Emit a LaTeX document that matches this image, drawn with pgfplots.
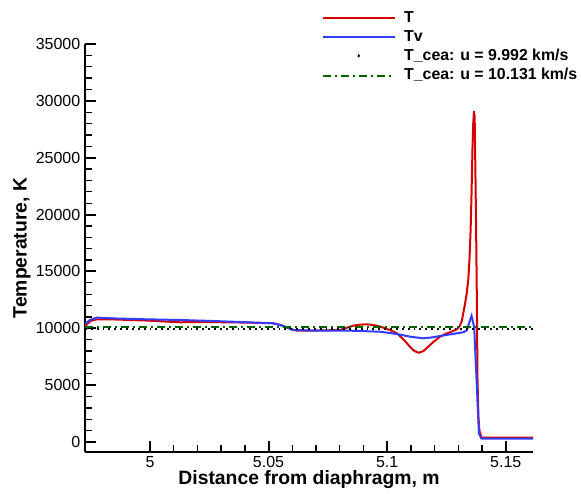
\documentclass[border=0pt]{standalone}
\usepackage{fontspec}
\setmainfont{Liberation Sans}
\setsansfont{Liberation Sans}
\usepackage{pgfplots}
\pgfplotsset{compat=1.18}
\definecolor{tred}{RGB}{214,0,0}
\definecolor{tblue}{RGB}{50,60,255}
\definecolor{cgreen}{RGB}{0,100,0}

\begin{document}
\begin{tikzpicture}[x=0.75pt,y=0.75pt]
\begin{axis}[
  scale only axis,
  width=336pt, height=306pt,
  xmin=4.9726, xmax=5.1615,
  ymin=-880, ymax=35000,
  axis lines=left,
  axis line style={-, line width=1.6pt},
  xtick={5,5.05,5.1,5.15},
  ytick={0,5000,...,35000},
  minor x tick num=4,
  minor y tick num=4,
  tick align=inside,
  major tick length=8pt,
  minor tick length=5pt,
  major tick style={line width=1.5pt, black},
  minor tick style={line width=1pt, black},
  scaled y ticks=false,
  scaled x ticks=false,
  /pgf/number format/set thousands separator={},
  /pgf/number format/assume math mode=true,
  tick label style={font=\fontsize{12}{14}\selectfont},
  xlabel={\bfseries Distance from diaphragm, m},
  ylabel={\bfseries Temperature, K},
  label style={font=\fontsize{14.5}{16}\selectfont},
  xlabel style={yshift=5pt},
  ylabel style={yshift=-3pt},
  legend style={at={(axis description cs:0.528,1.085)}, anchor=north west,
    draw=none, fill=none, inner sep=0pt, outer sep=0pt,
    font=\bfseries\fontsize{11.9}{13}\selectfont,
    row sep=1.4pt, nodes={inner sep=1pt, text height=8.6pt, text depth=2.4pt}},
  legend cell align=left,
  clip=true,
]
\addplot[tred, line width=1.5pt,
  legend image code/.code={\draw[tred, line width=1.5pt] (0pt,0pt) -- (54pt,0pt); \path (59.5pt,0pt);}] coordinates {
(4.9726,10200) (4.9750,10650) (4.9775,10790) (4.9845,10780) (4.9986,10680)
(5.0126,10530) (5.0267,10540) (5.0408,10500) (5.0520,10440) (5.0550,10300)
(5.0576,10080) (5.0600,9900) (5.0618,9800) (5.0700,9800) (5.0801,9850)
(5.0830,10050) (5.0857,10230) (5.0885,10320) (5.0914,10350) (5.0942,10290)
(5.0970,10150) (5.1005,9900) (5.1040,9580) (5.1070,9000) (5.1096,8380)
(5.1115,8000) (5.1134,7850) (5.1153,8000) (5.1173,8380) (5.1198,8850)
(5.1223,9260) (5.1245,9500) (5.1265,9650) (5.1293,9900) (5.1305,10150)
(5.1315,10650) (5.1321,11330) (5.1328,12100) (5.1335,13000) (5.1342,14260)
(5.1347,16000) (5.1352,18670) (5.1356,22000) (5.1360,26000) (5.1363,28000)
(5.1366,29100) (5.1369,28600) (5.1372,24000) (5.1375,19000) (5.1378,13000)
(5.1381,5440) (5.1385,2200) (5.1389,1000) (5.1398,390) (5.1616,390)
};
\addlegendentry{T}
\addplot[tblue, line width=1.5pt,
  legend image code/.code={\draw[tblue, line width=1.5pt] (0pt,0pt) -- (54pt,0pt); \path (59.5pt,0pt);}] coordinates {
(4.9726,10380) (4.9747,10730) (4.9775,10940) (4.9845,10870) (4.9986,10790)
(5.0126,10730) (5.0267,10640) (5.0408,10530) (5.0520,10440) (5.0562,10200)
(5.0585,10000) (5.0604,9850) (5.0689,9800) (5.0829,9800) (5.0970,9700)
(5.1040,9500) (5.1100,9250) (5.1152,9120) (5.1190,9200) (5.1223,9320)
(5.1270,9480) (5.1321,9650) (5.1335,9800) (5.1356,11090) (5.1367,10100)
(5.1377,5440) (5.1387,740) (5.1398,300) (5.1616,300)
};
\addlegendentry{Tv}
\addplot[black, line width=1.4pt, dash pattern=on 1.4pt off 3pt,
  legend image code/.code={\fill[black] (27pt,0pt) circle (0.75pt); \path (0pt,0pt) (59.5pt,0pt);}] coordinates {
(4.9726,9950) (5.1616,9950)
};
\addlegendentry{T\_cea: u = 9.992 km/s}
\addplot[cgreen, line width=1.4pt, dash pattern=on 6pt off 3pt on 1.5pt off 3pt,
  legend image code/.code={\draw[cgreen, line width=1.4pt, dash pattern=on 6pt off 3pt on 1.5pt off 3pt] (0pt,0pt) -- (54pt,0pt); \path (59.5pt,0pt);}] coordinates {
(4.9726,10130) (5.1616,10130)
};
\addlegendentry{T\_cea: u = 10.131 km/s}
\end{axis}
\path (current axis.south west) ++(-85,-39) rectangle ++(581,491);
\end{tikzpicture}
\end{document}
